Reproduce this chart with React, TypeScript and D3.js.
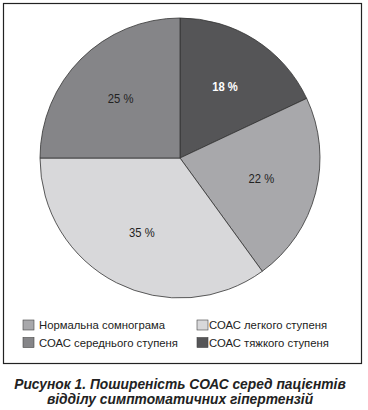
import React from "react";
import * as d3 from "d3";

const categories = [
  "СОАС тяжкого ступеня",
  "Нормальна сомнограма",
  "СОАС легкого ступеня",
  "СОАС середнього ступеня",
];
const values = [18, 22, 35, 25];
const colors = ["#555557", "#a8a8ab", "#d8d8da", "#858588"];
const labelColors = ["#ffffff", "#222222", "#222222", "#222222"];
const legendOrder = [1, 2, 3, 0];
const captionLines = [
  "Рисунок 1. Поширеність СОАС серед пацієнтів",
  "відділу симптоматичних гіпертензій",
];

export default function App() {
  const W = 368, H = 410;
  const cx = 180, cy = 158, r = 140;
  const pie = d3.pie<number>().sort(null).value((d) => d);
  const arcs = pie(values);
  const arc = d3.arc<d3.PieArcDatum<number>>().innerRadius(0).outerRadius(r);
  const labelArc = d3.arc<d3.PieArcDatum<number>>().innerRadius(84).outerRadius(84);
  const font = "Liberation Sans, Arial, sans-serif";
  return (
    <svg width={W} height={H} style={{ position: "absolute", left: 0, top: 0 }} fontFamily={font}>
      <rect x={0} y={0} width={W} height={H} fill="#fff" />
      <rect x={3.5} y={3.5} width={358} height={360} fill="none" stroke="#222" strokeWidth={1.2} />
      <g transform={`translate(${cx},${cy})`}>
        {arcs.map((a, i) => (
          <path key={i} d={arc(a) || ""} fill={colors[i]} stroke="#333" strokeWidth={0.8} />
        ))}
        {arcs.map((a, i) => {
          const [x, y] = labelArc.centroid(a);
          return (
            <text key={"l" + i} transform={`translate(${x},${y}) scale(0.9,1)`} textAnchor="middle"
              dominantBaseline="central" fontSize={12.5} fill={labelColors[i]}
              fontWeight={i === 0 ? "bold" : "normal"}>
              {values[i]} %
            </text>
          );
        })}
      </g>
      {legendOrder.map((ci, k) => {
        const col = k % 2, row = Math.floor(k / 2);
        const x = col === 0 ? 23 : 197;
        const y = 320 + row * 17.5;
        return (
          <g key={"lg" + k}>
            <rect x={x} y={y} width={11} height={10} fill={colors[ci]} stroke="#444" strokeWidth={0.6} />
            <text x={x + (col === 0 ? 16 : 12)} y={y + 5} dominantBaseline="central" fontSize={11.3} fill="#222">
              {categories[ci]}
            </text>
          </g>
        );
      })}
      {captionLines.map((t, i) => (
        <text key={"c" + i} x={180} y={389 + i * 15} textAnchor="middle" fontSize={13.8}
          fontWeight="bold" fontStyle="italic" fill="#222">
          {t}
        </text>
      ))}
    </svg>
  );
}
